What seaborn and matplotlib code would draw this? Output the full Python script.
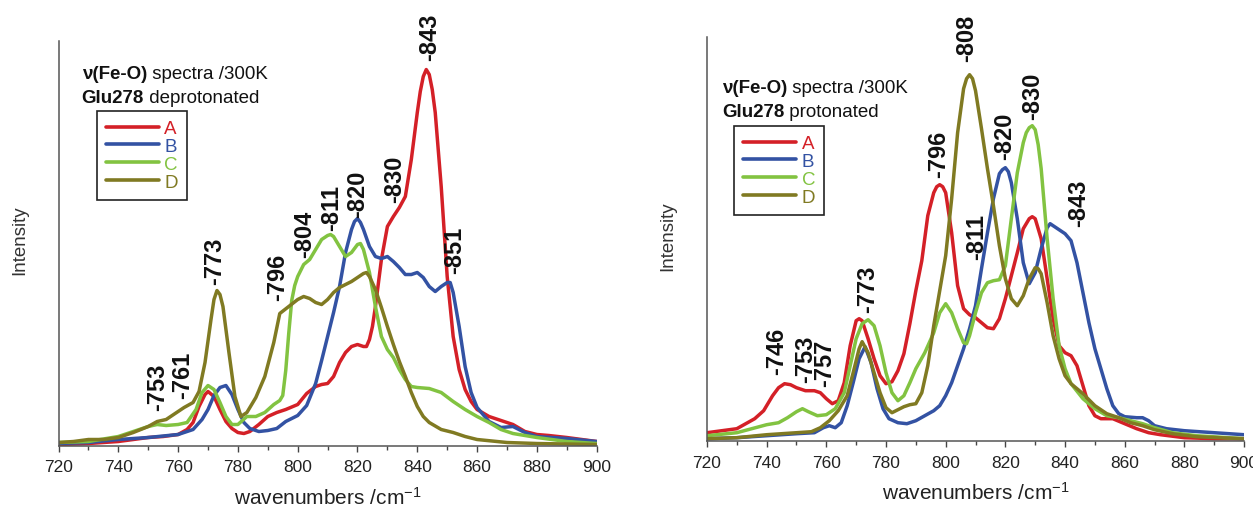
import numpy as np
import pandas as pd
import seaborn as sns
import matplotlib.pyplot as plt

# nu(Fe-O) spectra at 300K, intensity in arbitrary units
# --- Glu278 deprotonated ---
dep_a_x = [720, 730, 740, 750, 755, 760, 763, 765, 767, 769, 770, 772, 774, 776, 778, 780, 782, 784, 787, 790,
           793, 796, 800, 803, 806, 808, 810, 812, 814, 816, 818, 820, 822, 823, 824, 825, 826, 828, 830, 832,
           834, 836, 838, 840, 841, 842, 843, 844, 845, 846, 848, 850, 852, 854, 856, 858, 860, 864, 868, 872,
           876, 880, 884, 890, 900]
dep_a_y = [1, 2, 4, 8, 9, 11, 16, 23, 39, 51, 54, 49, 36, 24, 17, 13, 12, 14, 21, 29,
           33, 36, 41, 52, 59, 61, 62, 69, 83, 93, 99, 101, 99, 99, 106, 119, 139, 186, 219, 229,
           238, 249, 286, 333, 354, 369, 376, 371, 356, 333, 259, 169, 109, 76, 56, 44, 36, 29, 25, 21,
           14, 11, 10, 8, 4]

dep_b_x = [720, 730, 740, 750, 760, 765, 768, 770, 772, 774, 776, 778, 780, 782, 784, 787, 790, 793, 796, 800,
           803, 806, 808, 810, 812, 814, 816, 818, 819, 820, 821, 822, 824, 826, 828, 830, 832, 834, 836, 838,
           840, 842, 844, 846, 848, 850, 851, 852, 854, 856, 858, 860, 864, 868, 872, 876, 880, 890, 900]
dep_b_y = [2, 3, 6, 8, 11, 16, 26, 36, 50, 58, 60, 51, 36, 23, 17, 14, 15, 17, 24, 30,
           40, 62, 85, 109, 133, 159, 193, 216, 224, 227, 223, 216, 199, 189, 187, 189, 184, 178, 171, 171,
           173, 168, 159, 154, 159, 163, 163, 153, 119, 79, 53, 38, 24, 18, 19, 13, 9, 7, 4]

dep_c_x = [720, 730, 740, 745, 750, 753, 756, 760, 763, 766, 768, 770, 772, 774, 776, 778, 780, 783, 786, 789,
           792, 794, 795, 796, 797, 798, 799, 800, 802, 804, 806, 808, 810, 811, 812, 814, 816, 818, 820, 821,
           822, 824, 826, 828, 830, 832, 834, 836, 838, 840, 844, 848, 852, 856, 860, 864, 868, 872, 880, 890,
           900]
dep_c_y = [3, 4, 9, 14, 19, 21, 20, 21, 23, 36, 53, 60, 56, 43, 29, 21, 21, 29, 29, 33,
           41, 45, 50, 75, 112, 145, 160, 169, 181, 186, 196, 206, 210, 211, 209, 199, 189, 193, 201, 202,
           196, 173, 139, 109, 96, 88, 76, 66, 59, 58, 57, 53, 44, 36, 29, 23, 16, 12, 8, 4,
           2]

dep_d_x = [720, 725, 730, 735, 740, 745, 750, 753, 756, 759, 762, 765, 767, 769, 771, 772, 773, 774, 775, 777,
           779, 781, 783, 786, 789, 792, 794, 797, 800, 802, 804, 806, 808, 810, 812, 814, 816, 818, 820, 822,
           823, 824, 826, 828, 830, 832, 834, 836, 838, 840, 842, 844, 848, 852, 856, 860, 870, 880, 900]
dep_d_y = [3, 4, 6, 6, 8, 13, 19, 24, 26, 32, 38, 43, 54, 83, 126, 146, 155, 151, 139, 93,
           49, 29, 33, 48, 69, 103, 132, 139, 146, 149, 147, 143, 141, 146, 153, 158, 161, 164, 168, 172,
           173, 169, 156, 138, 119, 101, 84, 69, 53, 39, 29, 23, 16, 13, 9, 6, 3, 2, 1]

dep_peak_text = ['-753', '-761', '-773', '-796', '-804', '-811', '-820', '-830', '-843', '-851']
dep_peak_x = [753, 761.4, 772.3, 793.4, 802.4, 811.5, 820.2, 832.5, 844.2, 852.6]
dep_peak_y = [36, 48, 162, 146, 189, 216, 229, 244, 386, 173]

# --- Glu278 protonated ---
pro_a_x = [720, 725, 730, 733, 736, 739, 742, 744, 746, 748, 750, 753, 756, 758, 760, 762, 764, 766, 768, 770,
           771, 772, 774, 776, 778, 780, 782, 784, 786, 788, 790, 792, 794, 796, 797, 798, 799, 800, 802, 804,
           806, 808, 810, 812, 814, 816, 818, 820, 822, 824, 826, 828, 829, 830, 832, 834, 836, 838, 840, 842,
           844, 846, 848, 850, 852, 856, 860, 864, 868, 872, 880, 890, 900]
pro_a_y = [8, 10, 12, 17, 22, 30, 45, 53, 57, 56, 53, 50, 50, 48, 42, 37, 40, 58, 95, 120,
           122, 120, 102, 82, 65, 57, 59, 70, 87, 117, 150, 180, 225, 248, 254, 256, 254, 248, 208, 155,
           132, 126, 123, 118, 113, 112, 122, 142, 165, 188, 212, 222, 224, 222, 202, 162, 122, 95, 88, 85,
           75, 55, 35, 25, 22, 22, 17, 12, 8, 6, 3, 2, 2]

pro_b_x = [720, 730, 740, 750, 756, 759, 761, 763, 765, 767, 769, 771, 773, 775, 777, 779, 781, 784, 787, 790,
           793, 796, 798, 800, 802, 804, 806, 808, 810, 812, 814, 816, 818, 819, 820, 821, 822, 824, 826, 828,
           830, 832, 834, 835, 837, 840, 842, 844, 846, 848, 850, 852, 854, 856, 858, 860, 864, 866, 868, 870,
           874, 880, 890, 900]
pro_b_y = [2, 3, 5, 7, 8, 13, 15, 13, 18, 35, 58, 82, 94, 78, 52, 32, 22, 18, 17, 20,
           25, 30, 35, 45, 58, 75, 92, 112, 135, 172, 208, 242, 267, 271, 273, 269, 258, 222, 178, 157,
           168, 192, 213, 217, 213, 207, 200, 178, 148, 118, 92, 72, 52, 35, 27, 24, 23, 23, 20, 15,
           12, 10, 8, 6]

pro_c_x = [720, 730, 735, 740, 744, 747, 750, 752, 754, 757, 760, 763, 766, 768, 770, 772, 774, 776, 778, 780,
           782, 784, 786, 788, 790, 793, 796, 798, 800, 802, 804, 806, 807, 808, 810, 812, 814, 816, 818, 820,
           822, 824, 826, 827, 828, 829, 830, 831, 832, 834, 836, 838, 840, 842, 846, 850, 854, 858, 862, 866,
           870, 876, 884, 900]
pro_c_y = [5, 8, 12, 16, 18, 23, 29, 32, 29, 25, 26, 32, 48, 75, 102, 117, 121, 115, 95, 68,
           48, 40, 45, 58, 72, 88, 108, 128, 137, 128, 112, 98, 97, 105, 128, 148, 158, 160, 161, 175,
           222, 268, 298, 308, 313, 315, 311, 296, 272, 202, 142, 95, 72, 57, 42, 32, 25, 23, 20, 17,
           13, 8, 5, 2]

pro_d_x = [720, 730, 740, 750, 755, 758, 761, 764, 767, 769, 771, 772, 774, 776, 778, 780, 782, 784, 786, 788,
           790, 792, 794, 796, 798, 800, 802, 804, 806, 807, 808, 809, 810, 812, 814, 816, 818, 820, 822, 824,
           826, 828, 830, 831, 832, 834, 836, 838, 840, 842, 846, 850, 854, 858, 862, 866, 870, 876, 884, 900]
pro_d_y = [2, 3, 6, 8, 9, 13, 20, 30, 45, 68, 92, 99, 88, 68, 48, 33, 28, 31, 34, 36,
           37, 48, 75, 115, 150, 185, 242, 308, 352, 362, 366, 362, 350, 312, 272, 235, 195, 162, 142, 135,
           145, 162, 173, 172, 167, 138, 105, 82, 65, 57, 47, 35, 27, 23, 18, 15, 11, 7, 4, 2]

pro_peak_text = ['-746', '-753', '-757', '-773', '-796', '-808', '-811', '-820', '-830', '-843']
pro_peak_x = [743.4, 753.2, 759.5, 774, 797.6, 807.1, 810.5, 819.9, 829.2, 844.4]
pro_peak_y = [67, 59, 55, 129, 264, 380, 182, 282, 322, 215]

names = ['A', 'B', 'C', 'D']
colors = ['#d42027', '#3352a3', '#82c341', '#807a22']

sns.set_style('ticks')
plt.rcParams['font.family'] = ['Liberation Sans', 'DejaVu Sans']
plt.rcParams['mathtext.fontset'] = 'custom'
plt.rcParams['mathtext.rm'] = 'Liberation Sans'
plt.rcParams['mathtext.it'] = 'Liberation Sans:italic'
plt.rcParams['mathtext.bf'] = 'Liberation Sans:bold'

fig = plt.figure(figsize=(12.53, 5.10), dpi=100)
ax1 = fig.add_axes([0.0467, 0.1245, 0.4295, 0.7931])
ax2 = fig.add_axes([0.5642, 0.1339, 0.4287, 0.7910])


def draw_panel(ax, xs, ys, ptext, px, py, state, ytop, txt_pos, leg_pos, ylab_x):
    for name, c, x, y in zip(names, colors, xs, ys):
        sns.lineplot(x=x, y=y, color=c, lw=2.5, label=name, ax=ax, estimator=None, sort=False)

    for t, x, y in zip(ptext, px, py):
        ax.text(x, y, t, rotation=90, ha='center', va='bottom', fontsize=17,
                fontweight='bold', color='#111')

    ax.set_xlim(720, 900)
    ax.set_ylim(0, ytop)
    ax.set_xticks(range(720, 901, 20))
    ax.set_xticks(range(730, 900, 20), minor=True)
    ax.set_yticks([])
    ax.tick_params(axis='x', which='major', direction='out', length=4, width=1.0,
                   color='#444', labelsize=12.5, pad=6, labelcolor='#222')
    ax.tick_params(axis='x', which='minor', direction='out', length=3, width=1.0, color='#444')
    sns.despine(ax=ax)
    for s in ['left', 'bottom']:
        ax.spines[s].set_linewidth(1.1)
        ax.spines[s].set_color('#555')

    ax.set_xlabel('wavenumbers /cm$^{-1}$', fontsize=15, color='#222')
    ax.xaxis.set_label_coords(0.5, -0.10)
    ax.set_ylabel('Intensity', fontsize=13.5, color='#333')
    ax.yaxis.set_label_coords(ylab_x, 0.51)

    # two-line caption, bold part followed by regular part
    tx, ty1, ty2 = txt_pos
    t1 = ax.text(tx, ty1, '\u03bd(Fe-O)', transform=ax.transAxes, fontsize=13.5,
                 fontweight='bold', va='baseline', color='#111')
    ax.annotate(' spectra /300K', xy=(1, 0), xycoords=t1, va='bottom', fontsize=13.5, color='#111')
    t2 = ax.text(tx, ty2, 'Glu278', transform=ax.transAxes, fontsize=13.5,
                 fontweight='bold', va='baseline', color='#111')
    ax.annotate(' ' + state, xy=(1, 0), xycoords=t2, va='bottom', fontsize=13.5, color='#111')

    leg = ax.legend(loc='upper left', bbox_to_anchor=leg_pos, borderaxespad=0, frameon=True,
                    fancybox=False, edgecolor='#222', framealpha=1, fontsize=13.5,
                    handlelength=2.8, handletextpad=0.3, labelspacing=0.04, borderpad=0.5,
                    labelcolor='linecolor')
    leg.get_frame().set_linewidth(1.2)
    for line in leg.get_lines():
        line.set_linewidth(2.6)


draw_panel(ax1, [dep_a_x, dep_b_x, dep_c_x, dep_d_x], [dep_a_y, dep_b_y, dep_c_y, dep_d_y],
           dep_peak_text, dep_peak_x, dep_peak_y, 'deprotonated', 404.5,
           (0.043, 0.9085, 0.849), (0.071, 0.828), -0.057)
draw_panel(ax2, [pro_a_x, pro_b_x, pro_c_x, pro_d_x], [pro_a_y, pro_b_y, pro_c_y, pro_d_y],
           pro_peak_text, pro_peak_x, pro_peak_y, 'protonated', 403.4,
           (0.0276, 0.8637, 0.8042), (0.0505, 0.781), -0.058)

fig.savefig('out.png', dpi=100)
